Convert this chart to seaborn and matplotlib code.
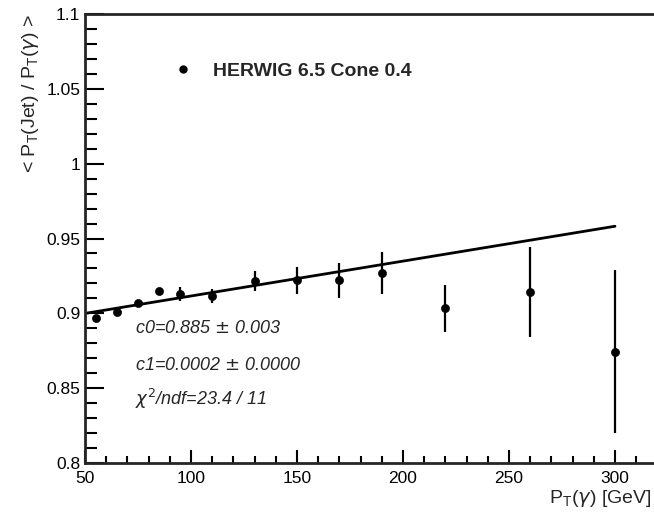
import matplotlib
matplotlib.use('Agg')
import matplotlib.pyplot as plt
from matplotlib.ticker import MultipleLocator
import pandas as pd
import seaborn as sns

# Pontos
pt_gamma = [55, 65, 75, 85, 95, 110, 130, 150, 170, 190, 220, 260, 300]
ratio = [0.8967, 0.901, 0.907, 0.915, 0.913, 0.9116, 0.9216, 0.9222, 0.922, 0.9271, 0.9033, 0.9145, 0.8745]
ratio_err = [0.002, 0.0015, 0.002, 0.002, 0.0045, 0.0045, 0.0065, 0.009, 0.0118, 0.014, 0.0159, 0.030, 0.0545]

# Reta do ajuste (pol1)
fit_x = [50, 300]
fit_c0 = 0.8883
fit_c1 = 0.000233

df = pd.DataFrame({'pt': pt_gamma, 'ratio': ratio, 'err': ratio_err})
df_fit = pd.DataFrame({'pt': fit_x})
df_fit['y'] = fit_c0 + fit_c1 * df_fit['pt']

sns.set_style('ticks')
plt.rcParams['font.family'] = ['Liberation Sans', 'DejaVu Sans']

fig = plt.figure(figsize=(6.54, 5.17), dpi=100)
ax = fig.add_axes([0.13, 0.1044, 0.87, 0.8685])

sns.lineplot(data=df_fit, x='pt', y='y', color='black', linewidth=2, ax=ax)
ax.errorbar(df['pt'], df['ratio'], yerr=df['err'], fmt='none', ecolor='black', elinewidth=1.6, capsize=0)
sns.scatterplot(data=df, x='pt', y='ratio', color='black', s=34, edgecolor='black', zorder=5, ax=ax)

ax.set_xlim(50, 318.4)
ax.set_ylim(0.8, 1.1)
ax.xaxis.set_major_locator(MultipleLocator(50))
ax.xaxis.set_minor_locator(MultipleLocator(10))
ax.yaxis.set_minor_locator(MultipleLocator(0.01))
ax.set_yticks([0.8, 0.85, 0.9, 0.95, 1.0, 1.05, 1.1])
ax.set_yticklabels(['0.8', '0.85', '0.9', '0.95', '1', '1.05', '1.1'])

ax.tick_params(axis='both', which='both', direction='in', width=1.5, colors='black', labelsize=12.5)
ax.tick_params(axis='y', which='major', length=14)
ax.tick_params(axis='y', which='minor', length=8.5)
ax.tick_params(axis='x', which='major', length=9.5)
ax.tick_params(axis='x', which='minor', length=5)
ax.tick_params(axis='x', which='major', pad=6)

for s in ['left', 'bottom', 'top']:
    ax.spines[s].set_linewidth(2)
ax.spines['right'].set_visible(False)

# rótulo do eixo x encostado na borda direita
ax.set_xlabel('')
ax.text(651 / 654, 8 / 517, r'P$_\mathregular{T}$($\gamma$) [GeV]', transform=fig.transFigure,
        fontsize=14, ha='right', va='bottom')
ax.set_ylabel(r'< P$_\mathregular{T}$(Jet) / P$_\mathregular{T}$($\gamma$) >', fontsize=14, loc='top', labelpad=4)

# Legenda
ax.plot([96], [1.063], 'o', color='black', markersize=5)
ax.text(213 / 654, 1 - 72 / 517, 'HERWIG 6.5 Cone 0.4', transform=fig.transFigure, fontsize=14,
        fontweight='bold', va='center', ha='left')

# Parâmetros do ajuste
info = ['c0=0.885 $\\pm$ 0.003', 'c1=0.0002 $\\pm$ 0.0000', r'$\chi^2$/ndf=23.4 / 11']
ys = [0.8897, 0.8654, 0.8428]
for t, yy in zip(info, ys):
    ax.text(73.5, yy, t, fontsize=13, style='italic', va='center', ha='left')

fig.savefig('out.png', dpi=100)
